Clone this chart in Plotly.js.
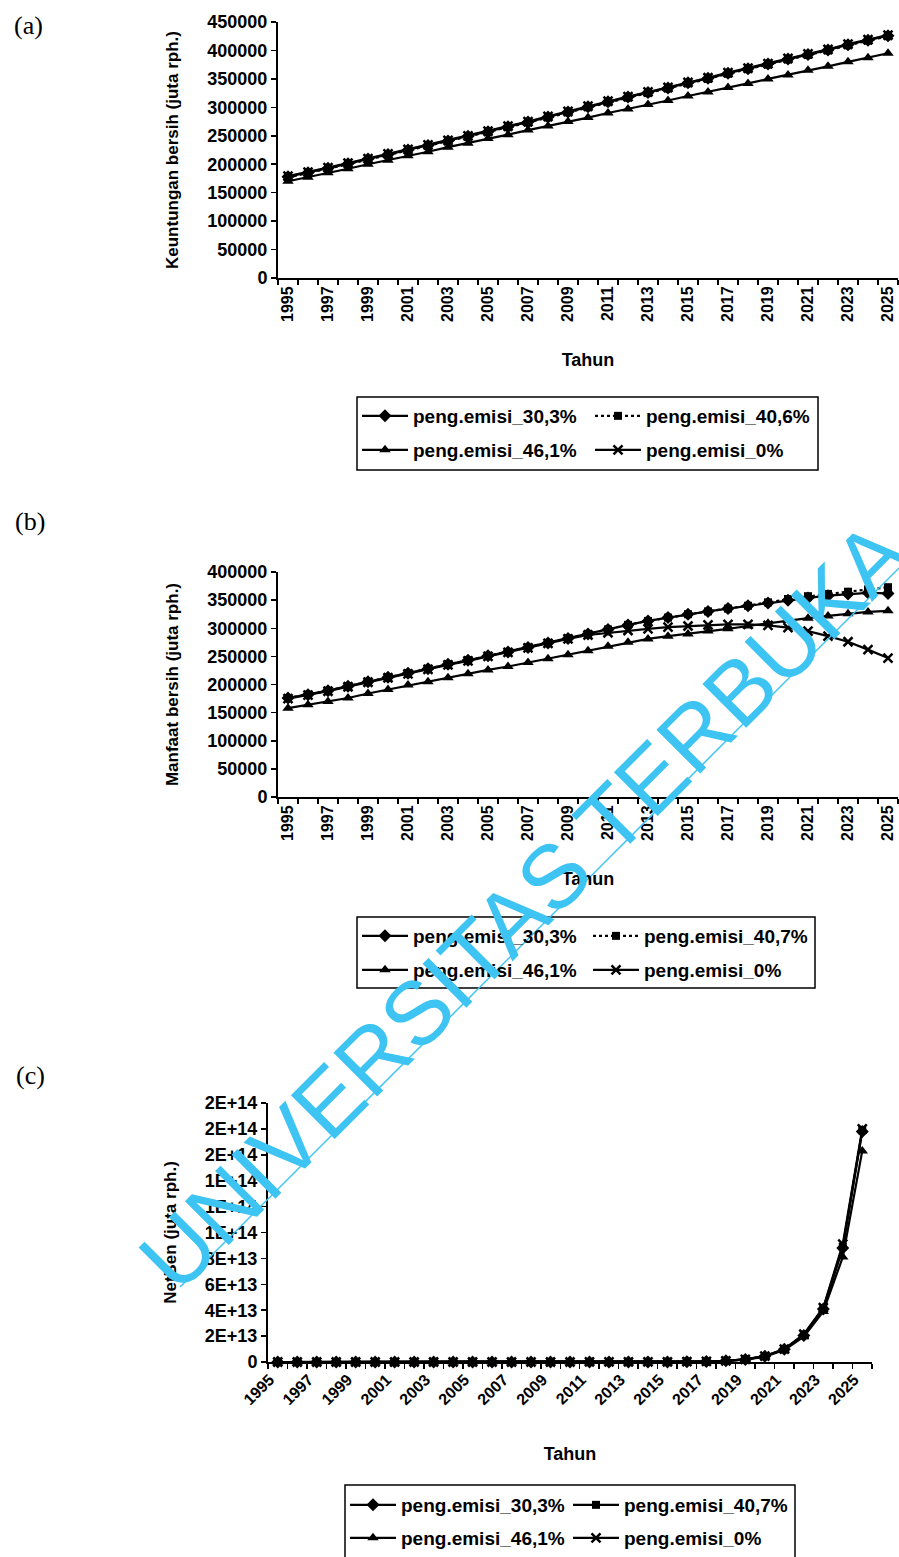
<!DOCTYPE html>
<html>
<head>
<meta charset="utf-8">
<script src="https://cdn.plot.ly/plotly-3.0.1.min.js"></script>
<style>html,body{margin:0;padding:0;background:#fff;}#chart{width:899px;height:1557px;}</style>
</head>
<body>
<div id="chart"></div>
<script>
// ---- data ----
const years = [1995,1996,1997,1998,1999,2000,2001,2002,2003,2004,2005,2006,2007,2008,2009,2010,2011,2012,2013,2014,2015,2016,2017,2018,2019,2020,2021,2022,2023,2024,2025];
const tickYears = [1995,1997,1999,2001,2003,2005,2007,2009,2011,2013,2015,2017,2019,2021,2023,2025];
const tickLabels = ['1995','1997','1999','2001','2003','2005','2007','2009','2011','2013','2015','2017','2019','2021','2023','2025'];

const seriesNamesA = ['peng.emisi_30,3%','peng.emisi_40,6%','peng.emisi_46,1%','peng.emisi_0%'];
const seriesNamesBC = ['peng.emisi_30,3%','peng.emisi_40,7%','peng.emisi_46,1%','peng.emisi_0%'];

// (a) Keuntungan bersih (juta rph.)
const a_303 = [178000,185000,193000,201000,209000,217000,225000,233000,241000,249000,257000,266000,274000,283000,292000,301000,310000,318000,326000,334000,343000,351000,360000,368000,376000,385000,393000,401000,410000,418000,426000];
const a_406 = [177000,184000,192000,200000,208000,216000,224000,232000,240000,248000,256000,265000,273000,282000,291000,300000,309000,317000,325000,333000,342000,350000,359000,367000,375000,384000,392000,400000,409000,417000,425000];
const a_461 = [170000,177000,185000,192000,200000,207000,215000,222000,230000,237000,245000,252000,260000,267000,275000,282000,290000,297000,305000,312000,320000,327000,335000,342000,350000,357000,365000,372000,380000,387000,395000];
const a_0   = [179000,186000,194000,202000,210000,218000,226000,234000,242000,250000,258000,267000,275000,284000,293000,302000,311000,319000,327000,335000,344000,352000,361000,369000,377000,386000,394000,402000,411000,419000,427000];

// (b) Manfaat bersih (juta rph.)
const b_303 = [176000,182000,189000,197000,205000,213000,220000,228000,236000,243000,251000,258000,266000,274000,282000,290000,298000,306000,313000,319000,325000,330000,335000,340000,345000,350000,354000,358000,361000,363000,362000];
const b_407 = [176000,182000,189000,197000,205000,213000,220000,228000,236000,243000,251000,258000,266000,274000,282000,290000,298000,306000,313000,319000,325000,330000,335000,340000,346000,352000,357000,361000,365000,369000,373000];
const b_461 = [158000,164000,170000,176000,184000,191000,199000,205000,212000,219000,226000,232000,239000,246000,253000,260000,268000,275000,281000,286000,290000,295000,299000,304000,309000,314000,318000,322000,326000,329000,331000];
const b_0   = [175000,181000,188000,196000,204000,212000,219000,227000,235000,242000,250000,257000,265000,273000,281000,288000,292000,296000,299000,302000,304000,306000,307000,307000,305000,301000,295000,286000,276000,262000,247000];

// (c) NetBen (juta rph.)
const c_303 = [2.1e4,4.2e4,9.5e4,2.1e5,4.4e5,9.0e5,2.1e6,4.2e6,9.5e6,2.0e7,4.4e7,9.1e7,2.0e8,4.4e8,9.2e8,2.0e9,4.3e9,9.4e9,2.0e10,4.3e10,9.3e10,2.0e11,4.3e11,9.3e11,2.0e12,4.4e12,9.8e12,2.05e13,4.1e13,8.8e13,1.78e14];
const c_407 = [2.1e4,4.3e4,9.6e4,2.1e5,4.5e5,9.1e5,2.1e6,4.3e6,9.6e6,2.0e7,4.5e7,9.2e7,2.0e8,4.5e8,9.3e8,2.0e9,4.4e9,9.5e9,2.0e10,4.4e10,9.4e10,2.0e11,4.4e11,9.4e11,2.0e12,4.5e12,9.9e12,2.1e13,4.15e13,8.9e13,1.79e14];
const c_461 = [1.9e4,3.9e4,8.8e4,1.9e5,4.1e5,8.4e5,1.9e6,3.9e6,8.8e6,1.9e7,4.1e7,8.5e7,1.9e8,4.1e8,8.6e8,1.9e9,4.0e9,8.8e9,1.9e10,4.0e10,8.7e10,1.9e11,4.0e11,8.7e11,1.9e12,4.1e12,9.2e12,1.95e13,3.9e13,8.1e13,1.63e14];
const c_0   = [2.2e4,4.4e4,9.8e4,2.2e5,4.6e5,9.3e5,2.2e6,4.4e6,9.8e6,2.1e7,4.6e7,9.4e7,2.1e8,4.6e8,9.5e8,2.1e9,4.5e9,9.7e9,2.1e10,4.5e10,9.6e10,2.1e11,4.5e11,9.6e11,2.1e12,4.6e12,1.0e13,2.15e13,4.2e13,9.1e13,1.80e14];
const yTicksC = [0,2e13,4e13,6e13,8e13,1e14,1.2e14,1.4e14,1.6e14,1.8e14,2e14];
const yTicksCText = ['0','2E+13','4E+13','6E+13','8E+13','1E+14','1E+14','1E+14','2E+14','2E+14','2E+14'];

// ---- helpers (styles / positions) ----
const W = 899, H = 1557;
const px = v => v / W;
const py = v => 1 - v / H;
const FONT = 'Liberation Sans, Arial, sans-serif';
const xTickFont = {family: FONT, size: 16, color: '#000', weight: 'bold'};
const yTickFont = {family: FONT, size: 18, color: '#000', weight: 'bold'};
const titleFont = {family: FONT, size: 18, color: '#000', weight: 'bold'};
const legFont = {family: FONT, size: 19, color: '#000', weight: 'bold'};
const serif = {family: 'Liberation Serif, Times New Roman, serif', size: 26, color: '#000'};

const markerStyles = [
  {symbol: 'diamond', size: 10, color: '#000'},
  {symbol: 'square', size: 8, color: '#000'},
  {symbol: 'triangle-up', size: 10, color: '#000'},
  {symbol: 'x-thin-open', size: 9, color: '#000', line: {width: 2.5, color: '#000'}}
];

const traces = [];
function addPanel(xa, ya, seriesList, names, legendIds, dashed) {
  seriesList.forEach((vals, i) => {
    traces.push({
      type: 'scatter', mode: 'lines+markers',
      x: years, y: vals, name: names[i],
      xaxis: xa, yaxis: ya,
      legend: legendIds[i],
      line: {color: '#000', width: 2.2, dash: (dashed && i === 1) ? 'dot' : 'solid'},
      marker: markerStyles[i],
      showlegend: true, cliponaxis: false
    });
  });
}
addPanel('x', 'y', [a_303, a_406, a_461, a_0], seriesNamesA, ['legend','legend2','legend3','legend4'], true);
addPanel('x2', 'y2', [b_303, b_407, b_461, b_0], seriesNamesBC, ['legend5','legend6','legend7','legend8'], true);
addPanel('x3', 'y3', [c_303, c_407, c_461, c_0], seriesNamesBC, ['legend9','legend10','legend11','legend12'], false);

function xAxis(domain, anchor, angle, standoff, shift) {
  return {
    domain: domain, anchor: anchor, range: [1994.5, 2025.5],
    tickmode: 'array', tickvals: tickYears, ticktext: tickLabels,
    ticks: '', tickangle: angle, tickfont: xTickFont, ticklabelshift: shift,
    showline: true, linecolor: '#000', linewidth: 2,
    showgrid: false, zeroline: false,
    minor: {ticks: 'outside', ticklen: 5, tickwidth: 1.5, tickcolor: '#000', tick0: 1994.5, dtick: 1, showgrid: false},
    title: {text: 'Tahun', font: titleFont, standoff: standoff},
    fixedrange: true
  };
}
function yAxis(domain, anchor, range, extra, title) {
  return Object.assign({
    domain: domain, anchor: anchor, range: range,
    ticks: 'outside', ticklen: 5, tickwidth: 1.5, tickcolor: '#000',
    tickfont: yTickFont, showline: true, linecolor: '#000', linewidth: 2,
    showgrid: false, zeroline: false,
    title: {text: title, font: {family: FONT, size: 17, color: '#000', weight: 'bold'}, standoff: 24},
    fixedrange: true
  }, extra);
}

function leg(xp, yp) {
  return {x: px(xp), y: py(yp), xanchor: 'left', yanchor: 'middle', orientation: 'v',
          bgcolor: 'rgba(0,0,0,0)', borderwidth: 0, font: legFont, itemwidth: 46, tracegroupgap: 0};
}

const layout = {
  width: W, height: H,
  margin: {l: 0, r: 0, t: 0, b: 0},
  paper_bgcolor: '#fff', plot_bgcolor: '#fff',
  font: {family: FONT, color: '#000'},
  showlegend: true,
  xaxis: xAxis([px(278), px(898)], 'y', -90, 32, 0),
  yaxis: yAxis([py(278), py(22)], 'x', [0, 450000], {tick0: 0, dtick: 50000, tickformat: 'd'}, 'Keuntungan bersih (juta rph.)'),
  xaxis2: xAxis([px(278), px(898)], 'y2', -90, 32, 0),
  yaxis2: yAxis([py(797), py(572)], 'x2', [0, 400000], {tick0: 0, dtick: 50000, tickformat: 'd'}, 'Manfaat bersih (juta rph.)'),
  xaxis3: xAxis([px(268), px(872)], 'y3', -45, 40, -8),
  yaxis3: yAxis([py(1362), py(1103)], 'x3', [0, 2e14], {tickmode: 'array', tickvals: yTicksC, ticktext: yTicksCText}, 'NetBen (juta rph.)'),
  legend: leg(357, 416), legend2: leg(590, 416), legend3: leg(357, 450), legend4: leg(590, 450),
  legend5: leg(357, 936), legend6: leg(588, 936), legend7: leg(357, 970), legend8: leg(588, 970),
  legend9: leg(345, 1505), legend10: leg(568, 1505), legend11: leg(345, 1538), legend12: leg(568, 1538),
  shapes: [
    {type: 'rect', xref: 'paper', yref: 'paper', x0: px(357), x1: px(818), y0: py(397), y1: py(470), line: {color: '#000', width: 1.5}},
    {type: 'rect', xref: 'paper', yref: 'paper', x0: px(357), x1: px(815), y0: py(917), y1: py(988), line: {color: '#000', width: 1.5}},
    {type: 'rect', xref: 'paper', yref: 'paper', x0: px(345), x1: px(795), y0: py(1485), y1: py(1562), line: {color: '#000', width: 1.5}},
    {type: 'line', xref: 'paper', yref: 'paper', x0: px(180), y0: py(1287), x1: px(899), y1: py(568), line: {color: '#3ec4f2', width: 1.5}, layer: 'above'}
  ],
  annotations: [
    {text: '(a)', x: px(28), y: py(26), xref: 'paper', yref: 'paper', xanchor: 'center', yanchor: 'middle', showarrow: false, font: serif},
    {text: '(b)', x: px(30), y: py(522), xref: 'paper', yref: 'paper', xanchor: 'center', yanchor: 'middle', showarrow: false, font: serif},
    {text: '(c)', x: px(30), y: py(1075), xref: 'paper', yref: 'paper', xanchor: 'center', yanchor: 'middle', showarrow: false, font: serif},
    {text: 'UNIVERSITAS TERBUKA', x: px(524), y: py(906), xref: 'paper', yref: 'paper', xanchor: 'center', yanchor: 'middle', showarrow: false, textangle: -45,
     font: {family: FONT, size: 90, color: '#3ec4f2'}}
  ]
};

Plotly.newPlot('chart', traces, layout, {staticPlot: true, displayModeBar: false});
</script>
</body>
</html>
